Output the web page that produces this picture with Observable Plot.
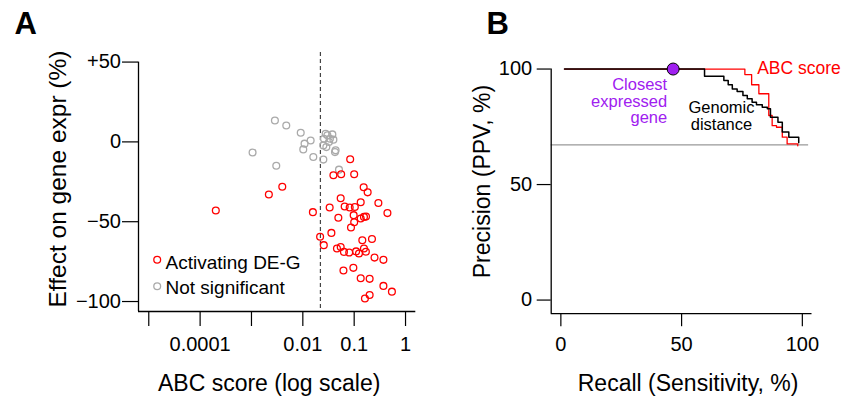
<!DOCTYPE html>
<html><head><meta charset="utf-8">
<script src="https://cdn.jsdelivr.net/npm/d3@7"></script>
<script src="https://cdn.jsdelivr.net/npm/@observablehq/plot@0.6"></script>
<style>
body{margin:0;background:#fff;}
#wrap{position:relative;width:843px;height:400px;overflow:hidden;background:#fff;}
#a,#b{position:absolute;top:0;}
#a{left:0;} #b{left:440px;}
</style></head><body><div id="wrap"><div id="a"></div><div id="b"></div></div>
<script>
// ---------- Panel A data ----------
const sigScore = [0.0836,0.0394,0.0558,0.1,0.153,0.183,0.00398,0.00218,0.000202,0.0546,0.296,0.134,0.0157,0.0333,0.0653,0.0817,0.103,0.444,0.0977,0.0492,0.134,0.155,0.17,0.1,0.0867,0.036,0.0217,0.0256,0.144,0.222,0.0462,0.0546,0.0632,0.08,0.109,0.124,0.155,0.169,0.249,0.371,0.0618,0.0964,0.134,0.2,0.371,0.543,0.162,0.2];
const sigEffect = [-10.9,-20.9,-20.3,-20.3,-28.4,-31.6,-28.1,-33,-43,-35.3,-38.3,-37.8,-44,-41.1,-40.5,-41.1,-40.8,-44.6,-45.9,-47.5,-48,-47,-46.8,-50.3,-53.6,-57,-59.4,-64.7,-61.6,-60.8,-66.8,-65.8,-68.9,-69.3,-68.6,-69.9,-66.8,-68.8,-72.5,-73.9,-80.6,-78.9,-85.4,-85.8,-90.2,-93.8,-98.1,-95.9];
const nsScore = [0.00286,0.00476,0.0091,0.0142,0.0108,0.0102,0.00105,0.00304,0.016,0.0278,0.0376,0.0258,0.0337,0.0394,0.0251,0.0287,0.0323,0.0423,0.0435,0.0251,0.0506,0.0301];
const nsEffect = [13.4,10.3,5.75,0.9,-1.1,-4.7,-6.6,-14.9,-9.5,5.1,4.7,2.0,2.0,1.4,-2.2,-3.25,-0.1,-6.4,-5.3,-11.1,-17.4,4.1];
const abcThreshold = [0.022];
const xTickValues = [1e-5,1e-4,1e-3,1e-2,1e-1,1];
const xTickLabels = ["","0.0001","","0.01","0.1","1"];
const yTickValues = [-100,-50,0,50];
const yTickLabels = ["\u2212100","\u221250","0","+50"];
const legendLabels = ["Activating DE-G","Not significant"];

// ---------- Panel B data ----------
const abcRecall    = [1.5,76.2,79.0,82.0,86.1,87.5,89.3,91.7,93.7,98.1];
const abcPrecision = [100,97.6,93.2,89.3,79.9,75.5,74.8,70.5,67.6,66.8];
const distRecall    = [1.5,59.5,67.5,69.3,71.0,73.0,75.4,77.2,79.2,81.0,83.4,85.5,86.8,89.9,91.7,94.4,98.5];
const distPrecision = [100,96.9,95.0,93.2,91.4,90.3,88.5,87.1,85.6,84.5,83.5,82.8,79.1,77.0,72.7,70.5,68.1];
const closestRecall = [46.5];
const closestPrecision = [100];
const baselinePrecision = [67.2];
const baselineRecallEnd = 102.6;
const bTickValues = [0,50,100];

const FONT = "'Liberation Sans', Arial, Helvetica, sans-serif";
const RED = "#ff0000", GRAY = "#aaaaaa", PURPLE = "#a020f0";

// ---------- Panel A ----------
const sig = sigScore.map((x,i)=>({x, y: sigEffect[i]}));
const ns = nsScore.map((x,i)=>({x, y: nsEffect[i]}));
const xDomA = [10**-5.2, 10**0.2], yDomA = [-106.25, 56];
const xLab = new Map(xTickValues.map((v,i)=>[v,xTickLabels[i]]));
const yLab = new Map(yTickValues.map((v,i)=>[v,yTickLabels[i]]));

const plotA = Plot.plot({
  width: 440, height: 400,
  marginLeft: 138, marginRight: 24.7, marginTop: 52, marginBottom: 89,
  style: {fontFamily: FONT, color: "black", background: "white", overflow: "visible"},
  x: {type: "log", domain: xDomA, label: null},
  y: {domain: yDomA, label: null},
  marks: [
    Plot.ruleX(abcThreshold, {stroke: "#444", strokeWidth: 1.2, strokeDasharray: "4,3"}),
    Plot.dot(ns, {x: "x", y: "y", r: 3.4, stroke: GRAY, strokeWidth: 1.3, fill: "none"}),
    Plot.dot(sig, {x: "x", y: "y", r: 3.4, stroke: RED, strokeWidth: 1.3, fill: "none"}),
    Plot.ruleX([xDomA[0]], {y1: yTickValues[yTickValues.length-1], y2: yDomA[0], stroke: "black", strokeWidth: 1.3}),
    Plot.ruleY([yDomA[0]], {x1: xDomA[0], x2: xDomA[1], stroke: "black", strokeWidth: 1.3}),
    Plot.axisX({anchor: "bottom", ticks: xTickValues, tickFormat: d => xLab.get(d) ?? "", tickSize: 15, tickPadding: 10, fontSize: 20, label: null, strokeWidth: 1.2}),
    Plot.axisY({anchor: "left", ticks: yTickValues, tickFormat: d => yLab.get(d) ?? "", tickSize: 16, tickPadding: 1.5, fontSize: 20, label: null, strokeWidth: 1.2}),
    // legend
    Plot.dot([legendLabels[0]], {frameAnchor: "bottom-left", dx: 18.7, dy: -51.7, r: 3.4, stroke: RED, strokeWidth: 1.3, fill: "none"}),
    Plot.dot([legendLabels[1]], {frameAnchor: "bottom-left", dx: 18.7, dy: -25.3, r: 3.4, stroke: GRAY, strokeWidth: 1.3, fill: "none"}),
    Plot.text([legendLabels[0]], {text: d=>d, frameAnchor: "bottom-left", dx: 27, dy: -42.7, lineAnchor: "bottom", textAnchor: "start", fontSize: 19, fill: "black"}),
    Plot.text([legendLabels[1]], {text: d=>d, frameAnchor: "bottom-left", dx: 27, dy: -17.7, lineAnchor: "bottom", textAnchor: "start", fontSize: 19, fill: "black"}),
    // titles
    Plot.text(["Effect on gene expr (%)"], {text: d=>d, frameAnchor: "left", dx: -73, dy: -3, rotate: -90, lineAnchor: "bottom", textAnchor: "middle", fontSize: 24.5, fill: "black"}),
    Plot.text(["ABC score (log scale)"], {text: d=>d, frameAnchor: "bottom", dx: -8, dy: 79, lineAnchor: "bottom", textAnchor: "middle", fontSize: 23, fill: "black"}),
    Plot.text(["A"], {text: d=>d, frameAnchor: "top-left", dx: -124, dy: -19, lineAnchor: "bottom", textAnchor: "start", fontSize: 31, fontWeight: "bold", fill: "black"})
  ]
});
document.getElementById("a").append(plotA);

// ---------- Panel B ----------
const abcCurve = abcRecall.map((r,i)=>({r, p: abcPrecision[i]}));
const distCurve = distRecall.map((r,i)=>({r, p: distPrecision[i]}));
const closest = closestRecall.map((r,i)=>({r, p: closestPrecision[i]}));
const xDomB = [-4, 104], yDomB = [-5.9, 104];

const plotB = Plot.plot({
  width: 403, height: 400,
  marginLeft: 110.7, marginRight: 31.5, marginTop: 59.3, marginBottom: 86.8,
  style: {fontFamily: FONT, color: "black", background: "white", overflow: "visible"},
  x: {domain: xDomB, label: null},
  y: {domain: yDomB, label: null},
  marks: [
    Plot.ruleY(baselinePrecision, {x1: xDomB[0], x2: baselineRecallEnd, stroke: "#999999", strokeWidth: 1.2}),
    Plot.line(abcCurve, {x: "r", y: "p", curve: "step-after", stroke: RED, strokeWidth: 1.3}),
    Plot.line(distCurve, {x: "r", y: "p", curve: "step-after", stroke: "black", strokeWidth: 1.5}),
    Plot.dot(closest, {x: "r", y: "p", r: 6, fill: PURPLE, stroke: "black", strokeWidth: 1}),
    Plot.ruleX([xDomB[0]], {y1: bTickValues[bTickValues.length-1], y2: yDomB[0], stroke: "black", strokeWidth: 1.3}),
    Plot.ruleY([yDomB[0]], {x1: xDomB[0], x2: xDomB[1], stroke: "black", strokeWidth: 1.3}),
    Plot.axisX({anchor: "bottom", ticks: bTickValues, tickFormat: d => String(d), tickSize: 13, tickPadding: 10, fontSize: 20, label: null, strokeWidth: 1.2}),
    Plot.axisY({anchor: "left", ticks: bTickValues, tickFormat: d => String(d), tickSize: 14, tickPadding: 5, fontSize: 20, label: null, strokeWidth: 1.2}),
    Plot.text(["ABC score"], {text: d=>d, frameAnchor: "top-left", dx: 206, dy: 14, lineAnchor: "bottom", textAnchor: "start", fontSize: 17.5, fill: RED}),
    Plot.text(["Closest\nexpressed\ngene"], {text: d=>d, frameAnchor: "top-left", dx: 116, dy: 18.5, lineAnchor: "top", textAnchor: "end", fontSize: 16.5, lineHeight: 1, fill: PURPLE}),
    Plot.text(["Genomic\ndistance"], {text: d=>d, frameAnchor: "top-left", dx: 170.3, dy: 41.5, lineAnchor: "top", textAnchor: "middle", fontSize: 16.5, lineHeight: 1, fill: "black"}),
    Plot.text(["Precision (PPV, %)"], {text: d=>d, frameAnchor: "left", dx: -61.7, dy: -5.25, rotate: -90, lineAnchor: "bottom", textAnchor: "middle", fontSize: 23, fill: "black"}),
    Plot.text(["Recall (Sensitivity, %)"], {text: d=>d, frameAnchor: "bottom", dx: 6.5, dy: 76.8, lineAnchor: "bottom", textAnchor: "middle", fontSize: 23, fill: "black"}),
    Plot.text(["B"], {text: d=>d, frameAnchor: "top-left", dx: -64.7, dy: -26.3, lineAnchor: "bottom", textAnchor: "start", fontSize: 31, fontWeight: "bold", fill: "black"})
  ]
});
document.getElementById("b").append(plotB);
</script>
</body></html>
